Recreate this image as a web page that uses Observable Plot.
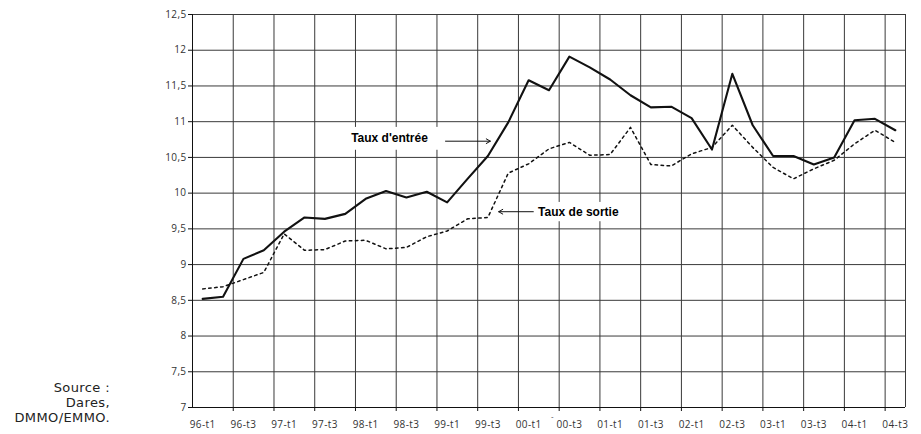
<!DOCTYPE html>
<html>
<head>
<meta charset="utf-8">
<script src="https://cdn.jsdelivr.net/npm/d3@7"></script>
<script src="https://cdn.jsdelivr.net/npm/@observablehq/plot@0.6"></script>
<style>
  html, body { margin: 0; padding: 0; background: #fff; }
  #wrap { position: relative; width: 921px; height: 434px; }
  #source { position: absolute; left: 0; top: 380px; width: 110px; text-align: right;
    font-family: "DejaVu Sans", sans-serif; font-size: 13px; line-height: 15px; color: #222; letter-spacing: 0.4px; }
  #wrap svg g[aria-label="y-axis tick label"] text,
  #wrap svg g[aria-label="x-axis tick label"] text { letter-spacing: 0.4px; }
</style>
</head>
<body>
<div id="wrap"><div id="source">Source :<br>Dares,<br>DMMO/EMMO.</div></div>
<script>
const quarters = [
  "96-t1","96-t2","96-t3","96-t4","97-t1","97-t2","97-t3","97-t4",
  "98-t1","98-t2","98-t3","98-t4","99-t1","99-t2","99-t3","99-t4",
  "00-t1","00-t2","00-t3","00-t4","01-t1","01-t2","01-t3","01-t4",
  "02-t1","02-t2","02-t3","02-t4","03-t1","03-t2","03-t3","03-t4",
  "04-t1","04-t2","04-t3"
];
const tauxEntree = [
  8.52, 8.55, 9.08, 9.20, 9.46, 9.66, 9.64, 9.71,
  9.92, 10.03, 9.94, 10.02, 9.87, 10.20, 10.52, 10.99,
  11.58, 11.44, 11.91, 11.76, 11.59, 11.37, 11.20, 11.21,
  11.05, 10.61, 11.67, 10.95, 10.52, 10.52, 10.40, 10.50,
  11.02, 11.04, 10.88
];
const tauxSortie = [
  8.66, 8.69, 8.79, 8.89, 9.43, 9.20, 9.21, 9.33,
  9.34, 9.22, 9.24, 9.39, 9.47, 9.64, 9.66, 10.28,
  10.41, 10.62, 10.71, 10.53, 10.54, 10.92, 10.40, 10.38,
  10.55, 10.64, 10.95, 10.64, 10.36, 10.20, 10.34, 10.46,
  10.69, 10.88, 10.71
];
const yTicks = [7, 7.5, 8, 8.5, 9, 9.5, 10, 10.5, 11, 11.5, 12, 12.5];

// annotations (data coordinates: quarter index, rate)
const labels = [
  {text: "Taux d'entrée", x: 9.17, y: 10.765, bx1: 7.16, bx2: 11.72, by1: 10.60, by2: 10.92,
   ax1: 11.92, ax2: 14.12, ay: 10.727},
  {text: "Taux de sortie", x: 18.44, y: 9.73, bx1: 16.38, bx2: 20.55, by1: 9.60, by2: 9.87,
   ax1: 16.23, ax2: 14.53, ay: 9.74}
];

const entree = quarters.map((q, i) => ({i, v: tauxEntree[i]}));
const sortie = quarters.map((q, i) => ({i, v: tauxSortie[i]}));
const n = quarters.length;
const labelIdx = quarters.map((q, i) => i).filter(i => i % 2 === 0);
const boundaries = [-0.5, ...quarters.map((q, i) => i + 0.5).filter((b, i) => i % 2 === 1), n - 0.5];
const innerBounds = boundaries.slice(1, -1);
const fmt = v => String(v).replace(".", ",");

const chart = Plot.plot({
  width: 921,
  height: 434,
  marginLeft: 192,
  marginRight: 16,
  marginTop: 14,
  marginBottom: 27,
  style: {fontFamily: "Open Sans, sans-serif", fontSize: "10px", color: "#333", background: "#fff"},
  x: {type: "linear", domain: [-0.5, n - 0.5]},
  y: {domain: [7, 12.5]},
  marks: [
    Plot.ruleY(yTicks, {stroke: "#3a3a3a", strokeWidth: 1}),
    Plot.ruleX(boundaries, {stroke: "#3a3a3a", strokeWidth: 1}),
    Plot.rect(labels, {x1: "bx1", x2: "bx2", y1: "by1", y2: "by2", fill: "white"}),
    Plot.ruleX([-0.5], {stroke: "#111", strokeWidth: 1}),
    Plot.ruleY([7], {stroke: "#111", strokeWidth: 1}),
    Plot.axisY({ticks: yTicks, tickFormat: fmt, tickSize: 4, tickPadding: 2, stroke: "#111", fill: "#333", label: null}),
    Plot.axisX({ticks: innerBounds, tickFormat: () => "", tickSize: 4, stroke: "#111", label: null}),
    Plot.axisX({ticks: labelIdx, tickFormat: i => quarters[i], tickSize: 0, tickPadding: 13, fill: "#333", label: null}),
    Plot.line(sortie, {x: "i", y: "v", stroke: "#111", strokeWidth: 1.5, strokeDasharray: "2.5,3.5"}),
    Plot.line(entree, {x: "i", y: "v", stroke: "#111", strokeWidth: 2.1}),
    Plot.text(labels, {x: "x", y: "y", text: "text", fill: "#000", fontWeight: "bold", fontSize: 12,
      fontFamily: "Liberation Sans Narrow, Liberation Sans, Arial, sans-serif"}),
    Plot.arrow(labels, {x1: "ax1", x2: "ax2", y1: "ay", y2: "ay", stroke: "#111", strokeWidth: 1, headLength: 7}),
    Plot.text(["-"], {x: [17.16], y: [7], dy: 9, fill: "#333", fontSize: 8})
  ]
});
document.getElementById("wrap").appendChild(chart);
</script>
</body>
</html>
